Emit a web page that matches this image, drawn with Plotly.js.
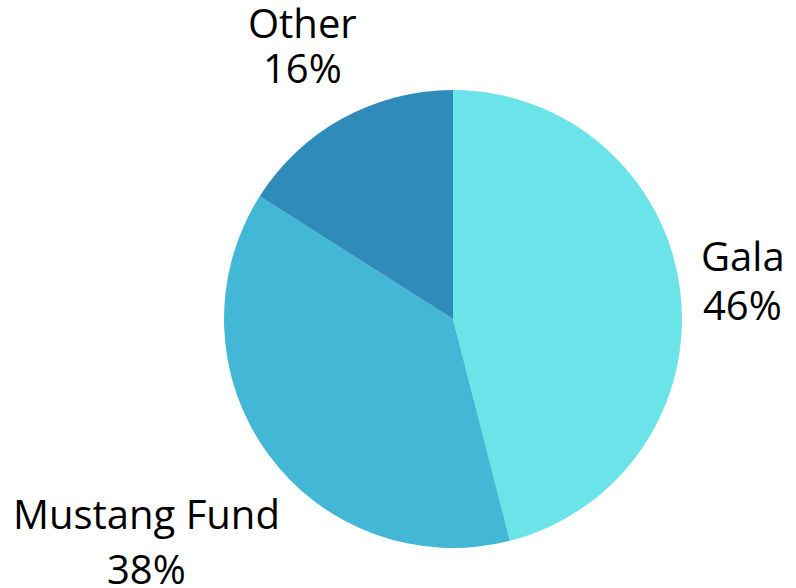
<!DOCTYPE html>
<html>
<head>
<meta charset="utf-8">
<script src="https://cdn.plot.ly/plotly-3.0.1.min.js"></script>
<style>html,body{margin:0;padding:0;background:#fff;}</style>
</head>
<body>
<div id="chart" style="width:796px;height:588px;"></div>
<script>
const labels = ["Gala", "Mustang Fund", "Other"];
const values = [46, 38, 16];
const colors = ["#6AE4E8", "#43B8D6", "#2E8BBA"];

// label placement (pixel centre x, name-line middle y, percent-line middle y)
const W = 796, H = 588;
const M = {l: 224, r: 114, t: 90, b: 40};
const labelPos = [
  {x: 743, y1: 256, x2: 742, y2: 304},
  {x: 146, y1: 513, x2: 146, y2: 568},
  {x: 302, y1: 22,  x2: 302, y2: 67}
];

const pw = W - M.l - M.r, ph = H - M.t - M.b;
const px = v => (v - M.l) / pw;
const py = v => (H - M.b - v) / ph;
const total = values.reduce((a, b) => a + b, 0);

const annotations = [];
labels.forEach((lab, i) => {
  const pct = Math.round(values[i] / total * 100) + "%";
  const p = labelPos[i];
  const common = {xref: "paper", yref: "paper", showarrow: false,
    xanchor: "center", yanchor: "middle",
    font: {family: "Open Sans", size: 40, color: "#000"}};
  annotations.push(Object.assign({x: px(p.x), y: py(p.y1), text: lab}, common));
  annotations.push(Object.assign({x: px(p.x2), y: py(p.y2), text: pct}, common));
});

Plotly.newPlot("chart", [{
  type: "pie",
  labels: labels,
  values: values,
  marker: {colors: colors},
  textinfo: "none",
  sort: false,
  direction: "clockwise",
  rotation: 0,
  hoverinfo: "none"
}], {
  width: W,
  height: H,
  margin: Object.assign({autoexpand: false}, M),
  showlegend: false,
  paper_bgcolor: "#fff",
  font: {family: "Open Sans"},
  annotations: annotations
}, {displayModeBar: false, staticPlot: true});
</script>
</body>
</html>
